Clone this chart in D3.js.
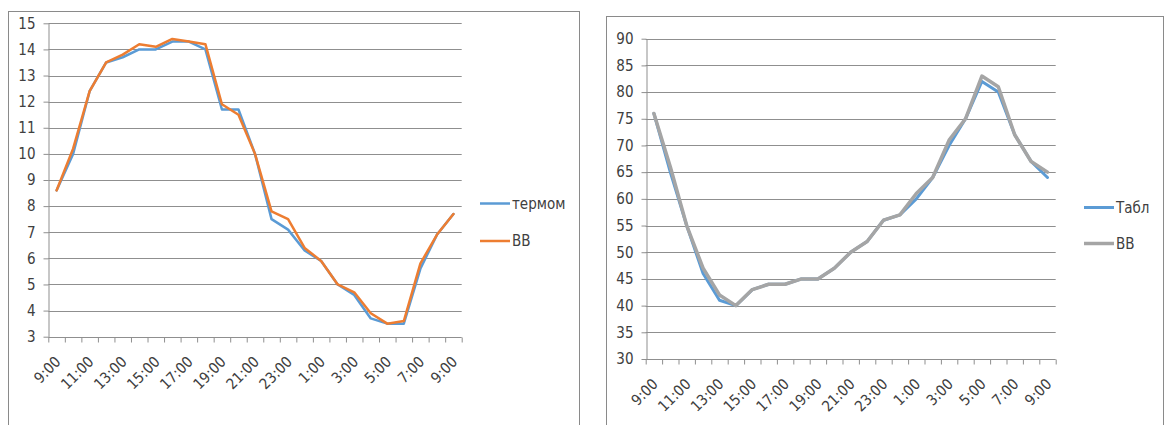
<!DOCTYPE html>
<html><head><meta charset="utf-8">
<script src="https://cdn.jsdelivr.net/npm/d3@7"></script>
<style>
html,body{margin:0;padding:0;background:#fff;}
svg{display:block;}
text{font-family:"Liberation Sans Narrow","DejaVu Sans Condensed",sans-serif;fill:#404040;}
</style></head>
<body>
<svg id="c" width="1165" height="425"></svg>
<script>
const categories = ["9:00","10:00","11:00","12:00","13:00","14:00","15:00","16:00","17:00","18:00","19:00","20:00","21:00","22:00","23:00","0:00","1:00","2:00","3:00","4:00","5:00","6:00","7:00","8:00","9:00"];

// Left chart: temperature
const leftNames = ["термом", "ВВ"];
const termom = [8.6,10.0,12.4,13.5,13.7,14.0,14.0,14.3,14.3,14.0,11.7,11.7,10.0,7.5,7.1,6.3,5.9,5.0,4.6,3.7,3.5,3.5,5.6,6.9,7.7];
const vvTemp = [8.6,10.2,12.4,13.5,13.8,14.2,14.1,14.4,14.3,14.2,11.9,11.5,10.0,7.8,7.5,6.4,5.9,5.0,4.7,3.9,3.5,3.6,5.8,6.9,7.7];
const leftTicks = [3,4,5,6,7,8,9,10,11,12,13,14,15];

// Right chart: humidity
const rightNames = ["Табл", "ВВ"];
const tabl = [76,65,55,46,41,40,43,44,44,45,45,47,50,52,56,57,60,64,70,75,82,80,72,67,64];
const vvHum = [76,66,55,47,42,40,43,44,44,45,45,47,50,52,56,57,61,64,71,75,83,81,72,67,65];
const rightTicks = [30,35,40,45,50,55,60,65,70,75,80,85,90];

const svg = d3.select("#c");
const gridColor = "#8f8f8f";

function drawChart(cfg){
  const g = svg.append("g");
  // frame
  g.append("rect").attr("x",cfg.frame[0]+0.5).attr("y",cfg.frame[1]+0.5)
    .attr("width",cfg.frame[2]-cfg.frame[0]).attr("height",440)
    .attr("fill","none").attr("stroke","#8a8a8a").attr("stroke-width",1);

  const y = d3.scaleLinear().domain([cfg.ticks[0], cfg.ticks[cfg.ticks.length-1]]).range([cfg.yBottom, cfg.yTop]);
  const xb = d3.scaleBand().domain(d3.range(categories.length)).range([cfg.x0, cfg.x1]).paddingInner(0).paddingOuter(0);
  const xl = d3.scaleLinear().domain([0, categories.length]).range([cfg.x0, cfg.x1]);

  // gridlines
  g.append("g").selectAll("line").data(cfg.ticks.slice(1)).join("line")
    .attr("x1",cfg.x0).attr("x2",cfg.x1)
    .attr("y1",d=>Math.round(y(d))+0.5).attr("y2",d=>Math.round(y(d))+0.5)
    .attr("stroke",gridColor).attr("stroke-width",1);

  // y axis
  const ya = g.append("g").attr("transform",`translate(${Math.round(cfg.x0)+0.5},0)`)
    .call(d3.axisLeft(y).tickValues(cfg.ticks).tickSize(5).tickPadding(8).tickSizeOuter(0));
  ya.selectAll("path,line").attr("stroke",gridColor);
  ya.selectAll("text").attr("font-size",15).attr("font-family",null).attr("fill","#404040");

  // x axis ticks at boundaries
  const xa = g.append("g").attr("transform",`translate(0,${Math.round(cfg.yBottom)+0.5})`)
    .call(d3.axisBottom(xl).tickValues(d3.range(categories.length+1)).tickSize(5).tickFormat("").tickSizeOuter(0));
  xa.selectAll("path,line").attr("stroke",gridColor);
  xa.select(".domain").attr("d",`M${cfg.x0},0H${cfg.x1}`);

  // x labels (every other category)
  const xlab = g.append("g").attr("transform",`translate(0,${cfg.yBottom})`)
    .call(d3.axisBottom(xb).tickValues(d3.range(0,categories.length,2)).tickSize(0).tickFormat(i=>categories[i]));
  xlab.select(".domain").remove();
  xlab.selectAll("text").attr("font-size",15).attr("font-family",null).attr("fill","#404040")
    .attr("text-anchor","end").attr("dy",null).attr("y",null)
    .attr("transform","translate(5,26) rotate(-45)");

  // lines
  const line = d3.line().x((d,i)=>xb(i)+xb.bandwidth()/2).y(d=>y(d));
  cfg.series.forEach(s=>{
    g.append("path").datum(s.values).attr("d",line).attr("fill","none")
      .attr("stroke",s.color).attr("stroke-width",s.width)
      .attr("stroke-linejoin","round").attr("stroke-linecap","round");
  });

  // legend
  cfg.series.forEach((s,k)=>{
    const ly = cfg.legend[1] + k*cfg.legend[2];
    g.append("line").attr("x1",cfg.legend[0]).attr("x2",cfg.legend[0]+30)
      .attr("y1",ly).attr("y2",ly).attr("stroke",s.color).attr("stroke-width",s.width);
    g.append("text").attr("x",cfg.legend[0]+32).attr("y",ly+5).attr("font-size",15).text(s.name);
  });
}

drawChart({
  frame:[8,11,579], x0:48.3, x1:461.7, yTop:23.3, yBottom:336.7, ticks:leftTicks,
  series:[{name:leftNames[0], values:termom, color:"#5B9BD5", width:2.5},
          {name:leftNames[1], values:vvTemp, color:"#ED7D31", width:2.5}],
  legend:[480,203.5,37.5]
});
drawChart({
  frame:[606,16,1163], x0:645.7, x1:1055.7, yTop:38.7, yBottom:359, ticks:rightTicks,
  series:[{name:rightNames[0], values:tabl, color:"#5B9BD5", width:3},
          {name:rightNames[1], values:vvHum, color:"#A5A5A5", width:3.5}],
  legend:[1084,207.5,36]
});
</script>
</body></html>
